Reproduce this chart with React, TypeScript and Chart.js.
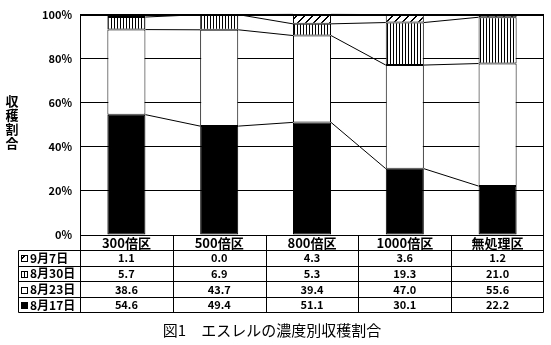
import React, { useEffect, useRef } from 'react';
import { Chart, registerables } from 'chart.js';

Chart.register(...registerables);

const categories = ['300倍区', '500倍区', '800倍区', '1000倍区', '無処理区'];
const seriesNames = ['8月17日', '8月23日', '8月30日', '9月7日'];
const aug17 = [54.6, 49.4, 51.1, 30.1, 22.2];
const aug23 = [38.6, 43.7, 39.4, 47.0, 55.6];
const aug30 = [5.7, 6.9, 5.3, 19.3, 21.0];
const sep7 = [1.1, 0.0, 4.3, 3.6, 1.2];
const yTickStep = 20;
const chartTitle = '図1　エスレルの濃度別収穫割合';
const yTitle = '収穫割合';

const JP = '"Noto Sans CJK JP", "Noto Sans", sans-serif';

function makeStripe(ctx: CanvasRenderingContext2D) {
  const c = document.createElement('canvas');
  c.width = 3;
  c.height = 1;
  const g = c.getContext('2d')!;
  g.fillStyle = '#fff';
  g.fillRect(0, 0, 3, 1);
  g.fillStyle = '#000';
  g.fillRect(0, 0, 1, 1);
  return ctx.createPattern(c, 'repeat')!;
}

function makeDiag(ctx: CanvasRenderingContext2D) {
  const n = 8;
  const c = document.createElement('canvas');
  c.width = n;
  c.height = n;
  const g = c.getContext('2d')!;
  g.fillStyle = '#fff';
  g.fillRect(0, 0, n, n);
  g.fillStyle = '#000';
  for (let y = 0; y < n; y++) {
    const x = n - 1 - y;
    g.fillRect(x, y, 1, 1);
    g.fillRect((x + 1) % n, y, 1, 1);
  }
  return ctx.createPattern(c, 'repeat')!;
}

export default function App() {
  const ref = useRef<HTMLCanvasElement>(null);

  useEffect(() => {
    const canvas = ref.current!;
    const ctx = canvas.getContext('2d')!;
    const stripe = makeStripe(ctx);
    const diag = makeDiag(ctx);
    const fills: any[] = ['#000', '#fff', stripe, diag];
    const seriesData = [aug17, aug23, aug30, sep7];

    const overlay = {
      id: 'overlay',
      afterDatasetsDraw(chart: any) {
        const c = chart.ctx;
        const ca = chart.chartArea;
        c.save();
        c.strokeStyle = '#000';
        c.lineWidth = 1;
        for (let k = 0; k < seriesData.length; k++) {
          const meta = chart.getDatasetMeta(k);
          for (let i = 0; i < categories.length - 1; i++) {
            const a = meta.data[i].getProps(['x', 'y', 'width'], true);
            const b = meta.data[i + 1].getProps(['x', 'y', 'width'], true);
            c.beginPath();
            c.moveTo(a.x + a.width / 2, a.y);
            c.lineTo(b.x - b.width / 2, b.y);
            c.stroke();
          }
        }
        c.strokeRect(Math.round(ca.left) + 0.5, Math.round(ca.top) + 0.5, Math.round(ca.right - ca.left) - 1, Math.round(ca.bottom - ca.top));
        c.restore();
      },
      afterDraw(chart: any) {
        const c = chart.ctx;
        const ca = chart.chartArea;
        const xs = chart.scales.x;
        const n = categories.length;
        const colW = (ca.right - ca.left) / n;
        const tableLeft = 18;
        const headTop = Math.round(ca.bottom);
        const headBottom = 250;
        const rowH = 15.6;
        const rows = seriesNames.length;
        const tableBottom = headBottom + rowH * rows;
        c.save();
        c.strokeStyle = '#000';
        c.lineWidth = 1;
        const L = (x1: number, y1: number, x2: number, y2: number) => {
          c.beginPath();
          c.moveTo(x1, y1);
          c.lineTo(x2, y2);
          c.stroke();
        };
        const px = (v: number) => Math.round(v) + 0.5;
        for (let i = 0; i <= n; i++) {
          const x = i === n ? px(ca.right - 1) : px(ca.left + colW * i);
          L(x, headTop, x, px(tableBottom));
        }
        L(px(tableLeft), px(headBottom), px(tableLeft), px(tableBottom));
        for (let r = 0; r <= rows; r++) {
          const y = px(headBottom + rowH * r);
          L(px(tableLeft), y, px(ca.right - 1), y);
        }
        c.fillStyle = '#000';
        c.textAlign = 'center';
        c.textBaseline = 'middle';
        c.font = `bold 13px ${JP}`;
        for (let i = 0; i < n; i++) {
          c.fillText(categories[i], xs.getPixelForValue(i), (headTop + headBottom) / 2 + 1);
        }
        for (let r = 0; r < rows; r++) {
          const k = rows - 1 - r;
          const yc = headBottom + rowH * r + rowH / 2 + 0.5;
          c.fillStyle = fills[k];
          c.fillRect(21, Math.round(yc) - 3, 7, 7);
          c.strokeRect(21.5, Math.round(yc) - 2.5, 6, 6);
          c.fillStyle = '#000';
          c.textAlign = 'left';
          c.font = `bold 12px ${JP}`;
          c.fillText(seriesNames[k], 30, yc);
          c.textAlign = 'center';
          c.font = `bold 11px ${JP}`;
          for (let i = 0; i < n; i++) {
            c.fillText(seriesData[k][i].toFixed(1), xs.getPixelForValue(i), yc);
          }
        }
        c.font = `bold 13px ${JP}`;
        c.textAlign = 'center';
        const chars = Array.from(yTitle);
        chars.forEach((ch, j) => {
          c.fillText(ch, 12, 101 + j * 14);
        });
        c.font = `15px ${JP}`;
        c.fillText(chartTitle, 272, 330);
        c.restore();
      },
    };

    const chart = new Chart(canvas, {
      type: 'bar',
      data: {
        labels: categories,
        datasets: seriesData.map((d, k) => ({
          label: seriesNames[k],
          data: d,
          backgroundColor: fills[k],
          borderColor: '#000',
          borderWidth: 1,
          borderSkipped: false,
          barPercentage: 0.41,
          categoryPercentage: 1,
        })),
      },
      options: {
        responsive: false,
        animation: false,
        layout: { padding: { left: 0, top: 14, right: 7, bottom: 110 } },
        plugins: { legend: { display: false }, tooltip: { enabled: false }, title: { display: false } },
        scales: {
          x: { stacked: true, display: false },
          y: {
            stacked: true,
            min: 0,
            max: 100,
            afterFit(scale: any) {
              scale.width = 80;
            },
            ticks: {
              stepSize: yTickStep,
              color: '#000',
              padding: 8,
              font: { family: JP, size: 11, weight: 'bold' },
              callback: (v: any) => `${v}%`,
            },
            grid: { color: '#000', drawTicks: false, lineWidth: 1 },
            border: { display: true, color: '#000' },
          },
        },
      } as any,
      plugins: [overlay],
    });
    return () => chart.destroy();
  }, []);

  return (
    <div style={{ position: 'fixed', left: 0, top: 0, width: 551, height: 345, background: '#fff' }}>
      <canvas ref={ref} width={551} height={345} style={{ width: 551, height: 345 }} />
    </div>
  );
}
